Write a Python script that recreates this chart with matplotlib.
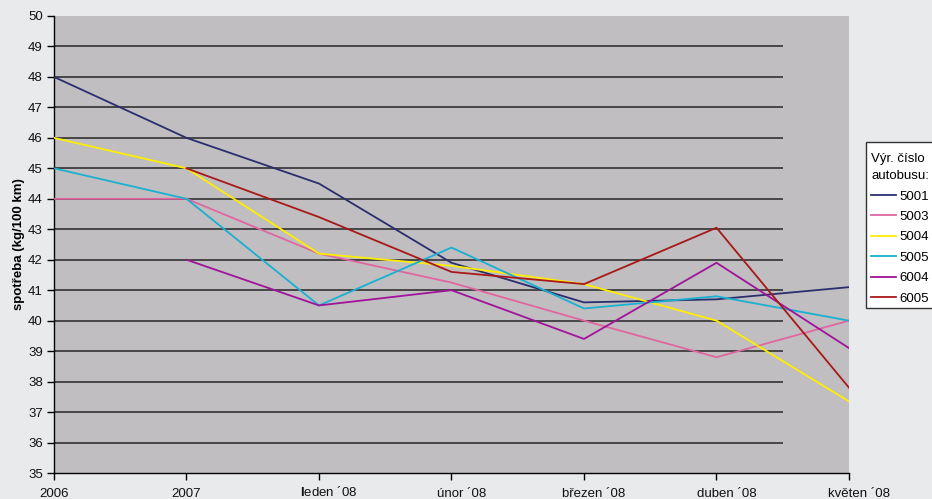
import numpy as np
import matplotlib
matplotlib.use("Agg")
import matplotlib.pyplot as plt
import matplotlib.transforms as mtrans
from matplotlib.patches import Rectangle

plt.rcParams['font.family'] = ['Liberation Sans', 'DejaVu Sans']
plt.rcParams['mathtext.fontset'] = 'custom'
plt.rcParams['mathtext.rm'] = 'Liberation Sans'
plt.rcParams['mathtext.bf'] = 'Liberation Sans:bold'

# data
months = ['2006', '2007', r'$\mathbf{l}$eden ´08', 'únor ´08', 'březen ´08', 'duben ´08', 'květen ´08']
bus_ids = ['5001', '5003', '5004', '5005', '6004', '6005']
v5001 = [48.0, 46.0, 44.5, 41.9, 40.6, 40.7, 41.1]
v5003 = [44.0, 44.0, 42.2, 41.25, 40.0, 38.8, 40.0]
v5004 = [46.0, 45.0, 42.2, 41.8, 41.2, 40.0, 37.35]
v5005 = [45.0, 44.0, 40.5, 42.4, 40.4, 40.8, 40.0]
v6004 = [np.nan, 42.0, 40.5, 41.0, 39.4, 41.9, 39.1]
v6005 = [np.nan, 45.0, 43.4, 41.6, 41.2, 43.05, 37.8]
series = [v5001, v5003, v5004, v5005, v6004, v6005]
line_colors = ['#2b2e6e', '#e066a0', '#ffee00', '#1ab0d0', '#a0139a', '#a81818']

fig = plt.figure(figsize=(9.32, 4.99), dpi=100, facecolor='#e9eaec')
ax = fig.add_axes([54/932, 1-473/499, 795/932, 457/499])
ax.set_facecolor('#c0bec1')

x = np.arange(len(months))
ax.hlines(np.arange(36, 50), 0, 5.5, colors='#262626', lw=1.1, zorder=1)

for vals, c, lab in zip(series, line_colors, bus_ids):
    ax.plot(x, vals, color=c, lw=1.3, label=lab, zorder=3)

ax.set_xlim(0, 6)
ax.set_ylim(35, 50)
ax.set_yticks(np.arange(35, 51))
ax.set_xticks(x)
ax.set_xticklabels(months)
ax.tick_params(axis='both', direction='out', length=5, width=1, color='black',
               labelsize=9.5, labelcolor='#111111')
ax.tick_params(axis='x', pad=6)
ax.tick_params(axis='y', pad=3)

# month labels sit a little to the right of their ticks
for i, t in enumerate(ax.get_xticklabels()):
    if i >= 2:
        dy = 3/100 if i == 2 else 0
        t.set_transform(t.get_transform() + mtrans.ScaledTranslation(10/100, dy, fig.dpi_scale_trans))

for s in ['top', 'right']:
    ax.spines[s].set_visible(False)
for s in ['left', 'bottom']:
    ax.spines[s].set_color('black')
    ax.spines[s].set_linewidth(1)

ax.set_ylabel('spotřeba (kg/100 km)', fontsize=9.5, fontweight='bold', labelpad=2)

# legend box (cut off by the right edge like in the original)
fig.patches.append(Rectangle((866/932, 1-308/499), 80/932, 166/499, transform=fig.transFigure,
                             facecolor='white', edgecolor='#333333', lw=1, zorder=1))
leg = fig.legend(loc='upper left', bbox_to_anchor=(866/932, 1-148/499), borderaxespad=0,
                 title='Výr. číslo\nautobusu:', fontsize=9.5, title_fontsize=9.5,
                 frameon=False, handlelength=1.9, handletextpad=0.25,
                 labelspacing=0.62, borderpad=0.4)
leg._legend_box.align = 'left'
leg.get_title().set_linespacing(1.55)
leg.set_zorder(2)

fig.savefig('out.png', dpi=100, facecolor=fig.get_facecolor())
